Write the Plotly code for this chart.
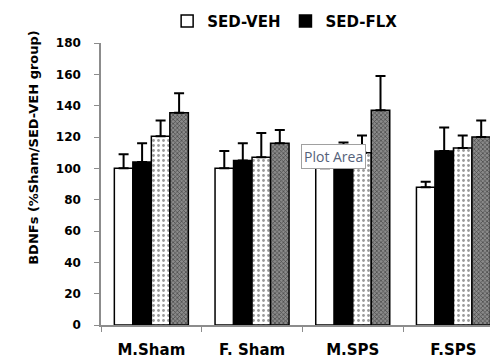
import plotly.graph_objects as go

categories = ["M.Sham", "F. Sham", "M.SPS", "F.SPS"]
series_names = ["SED-VEH", "SED-FLX", "EX-VEH", "EX-FLX"]
sed_veh = [100, 100, 100, 88]
sed_flx = [104, 105, 105, 111]
ex_veh = [120.5, 107, 110, 113]
ex_flx = [135.5, 116, 137, 120]
sed_veh_err = [9, 11, 8, 3.5]
sed_flx_err = [12, 11, 11.5, 15]
ex_veh_err = [10, 15.5, 11, 8]
ex_flx_err = [12.5, 8.5, 22, 10.5]
y_ticks = [0, 20, 40, 60, 80, 100, 120, 140, 160, 180]

values = [sed_veh, sed_flx, ex_veh, ex_flx]
errors = [sed_veh_err, sed_flx_err, ex_veh_err, ex_flx_err]
styles = [
    dict(color="white"),
    dict(color="black"),
    dict(color="white", pattern=dict(shape=".", fgcolor="#333333", bgcolor="white", size=5, solidity=0.25, fillmode="overlay")),
    dict(color="#808080", pattern=dict(shape="x", fgcolor="black", bgcolor="#8a8a8a", size=3, solidity=0.4, fillmode="overlay")),
]

FONT = "DejaVu Sans"
fig = go.Figure()
for i in range(4):
    m = dict(styles[i])
    m["line"] = dict(color="black", width=1.5)
    fig.add_trace(go.Bar(
        x=categories, y=values[i], name=series_names[i], marker=m,
        showlegend=(i < 2),
        error_y=dict(type="data", array=errors[i], arrayminus=[0] * 4, symmetric=False,
                     color="black", thickness=2, width=5),
    ))

fig.update_layout(
    width=490, height=358,
    margin=dict(l=101, r=0, t=43, b=33, autoexpand=False),
    paper_bgcolor="white", plot_bgcolor="white",
    barmode="group", bargap=0.265, bargroupgap=0,
    font=dict(family=FONT, color="black"),
    legend=dict(orientation="h", x=0.17, xanchor="left", y=1.077, yanchor="middle",
                font=dict(family=FONT, size=15, weight="bold"),
                itemwidth=30, tracegroupgap=0, bgcolor="rgba(0,0,0,0)"),
    xaxis=dict(range=[-0.5, 3.363], showline=True, linecolor="#8c8c8c", linewidth=1.5,
               ticks="outside", tickson="boundaries", ticklen=5, tickcolor="#8c8c8c",
               tickfont=dict(family=FONT, size=15, weight="bold"), showgrid=False,
               ticklabelstandoff=10, automargin=False),
    yaxis=dict(range=[0, 180], tickvals=y_ticks, showline=True, linecolor="#8c8c8c", linewidth=1.5,
               ticks="outside", ticklen=5, tickcolor="#8c8c8c", showgrid=False, zeroline=False,
               tickfont=dict(family=FONT, size=12, weight="bold"), ticklabelstandoff=11,
               automargin=False),
)

fig.add_annotation(
    text="BDNFs (%Sham/SED-VEH group)", textangle=-90,
    xref="paper", yref="paper", x=-0.198, y=0.63, showarrow=False,
    font=dict(family=FONT, size=13, weight="bold"),
)
fig.add_annotation(
    text="Plot Area", xref="paper", yref="paper", x=0.514, y=0.641,
    xanchor="left", yanchor="top", showarrow=False,
    font=dict(family="Open Sans", size=14, color="#55627a"),
    bgcolor="white", bordercolor="#a0a0a0", borderwidth=1, borderpad=2,
)

fig.write_html("out.html", config={"displayModeBar": False},
               post_script="document.body.style.margin='0';document.body.style.overflow='hidden';")
